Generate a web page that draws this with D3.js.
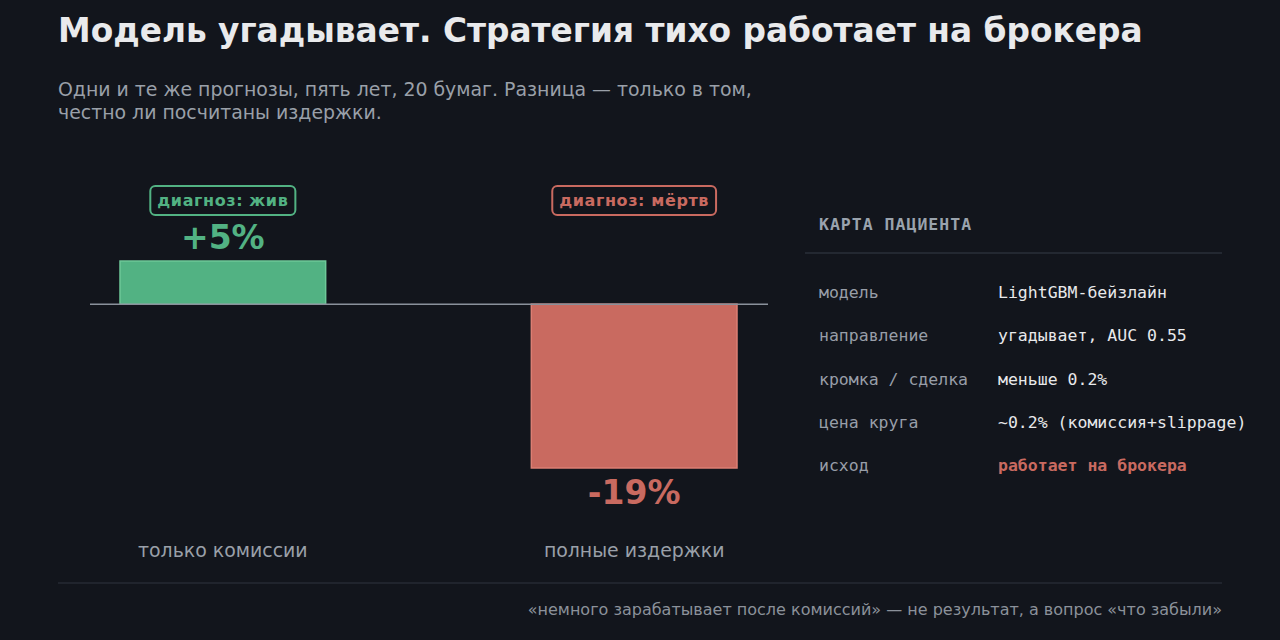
<!DOCTYPE html>
<html>
<head>
<meta charset="utf-8">
<script src="https://cdn.jsdelivr.net/npm/d3@7"></script>
<style>
  html, body { margin: 0; padding: 0; background: #12151c; }
  svg { display: block; }
</style>
</head>
<body>
<div id="vis"></div>
<script>
// data
var categories = ['только комиссии', 'полные издержки'];
var values = [5, -19];
var valueLabels = ['+5%', '-19%'];
var badges = ['диагноз: жив', 'диагноз: мёртв'];

var cardKeys = ['модель', 'направление', 'кромка / сделка', 'цена круга', 'исход'];
var cardValues = ['LightGBM-бейзлайн', 'угадывает, AUC 0.55', 'меньше 0.2%', '~0.2% (комиссия+slippage)', 'работает на брокера'];

var width = 1280;
var height = 640;

var green = '#52b283', greenStroke = '#6dc898';
var red = '#c96a60', redStroke = '#dc7f73';
var sans = 'DejaVu Sans, sans-serif';
var mono = 'DejaVu Sans Mono, monospace';

var svg = d3.select('#vis').append('svg')
  .attr('width', width)
  .attr('height', height);

svg.append('rect')
  .attr('width', width).attr('height', height)
  .attr('fill', '#12151c');

// title
svg.append('text')
  .attr('x', 58).attr('y', 42)
  .attr('font-family', sans).attr('font-weight', 'bold')
  .attr('font-size', 32.8).attr('fill', '#e9eaec')
  .text('Модель угадывает. Стратегия тихо работает на брокера');

var sub = svg.append('text')
  .attr('font-family', sans).attr('font-size', 18.9)
  .attr('fill', '#9aa0a9');
sub.append('tspan').attr('x', 58).attr('y', 96)
  .text('Одни и те же прогнозы, пять лет, 20 бумаг. Разница — только в том,');
sub.append('tspan').attr('x', 58).attr('y', 119)
  .text('честно ли посчитаны издержки.');

// scales
var x = d3.scaleBand()
  .domain(categories)
  .range([120, 737])
  .paddingInner(0.5)
  .paddingOuter(0);

var y = d3.scaleLinear()
  .domain([-19, 5])
  .range([468, 261]);

var g = svg.append('g');

g.selectAll('.bar')
  .data(values)
  .enter().append('rect')
  .attr('class', 'bar')
  .attr('x', function(d, i) { return x(categories[i]); })
  .attr('width', x.bandwidth())
  .attr('y', function(d) { return y(Math.max(0, d)); })
  .attr('height', function(d) { return Math.abs(y(d) - y(0)); })
  .attr('fill', function(d) { return d >= 0 ? green : red; })
  .attr('stroke', function(d) { return d >= 0 ? greenStroke : redStroke; })
  .attr('stroke-width', 1.5);

// zero line
g.append('line')
  .attr('x1', 90).attr('x2', 768)
  .attr('y1', y(0)).attr('y2', y(0))
  .attr('stroke', '#8a919b').attr('stroke-width', 1.5);

// value labels
g.selectAll('.val')
  .data(values)
  .enter().append('text')
  .attr('class', 'val')
  .attr('x', function(d, i) { return x(categories[i]) + x.bandwidth() / 2; })
  .attr('y', function(d) { return d >= 0 ? y(d) - 12 : y(d) + 36; })
  .attr('text-anchor', 'middle')
  .attr('font-family', sans).attr('font-weight', 'bold').attr('font-size', 33)
  .attr('fill', function(d) { return d >= 0 ? green : red; })
  .text(function(d, i) { return valueLabels[i]; });

// badges
var badge = g.selectAll('.badge')
  .data(values)
  .enter().append('g')
  .attr('class', 'badge')
  .attr('transform', function(d, i) {
    return 'translate(' + (x(categories[i]) + x.bandwidth() / 2) + ',200)';
  });

badge.append('text')
  .attr('text-anchor', 'middle')
  .attr('y', 6)
  .attr('font-family', sans).attr('font-weight', 'bold').attr('font-size', 16)
  .attr('letter-spacing', 0.6)
  .attr('fill', function(d) { return d >= 0 ? green : red; })
  .text(function(d, i) { return badges[i]; });

badge.each(function() {
  var t = d3.select(this).select('text').node().getBBox();
  d3.select(this).insert('rect', 'text')
    .attr('x', t.x - 7).attr('y', -14)
    .attr('width', t.width + 14).attr('height', 29)
    .attr('rx', 5)
    .attr('fill', '#12151c')
    .attr('stroke', function(d) { return d >= 0 ? green : red; })
    .attr('stroke-width', 2);
});

// category labels
g.selectAll('.cat')
  .data(categories)
  .enter().append('text')
  .attr('class', 'cat')
  .attr('x', function(d) { return x(d) + x.bandwidth() / 2; })
  .attr('y', 557)
  .attr('text-anchor', 'middle')
  .attr('font-family', sans).attr('font-size', 18.9)
  .attr('fill', '#9aa0a9')
  .text(function(d) { return d; });

// patient card
var card = svg.append('g');
card.append('text')
  .attr('x', 819).attr('y', 230)
  .attr('font-family', mono).attr('font-weight', 'bold').attr('font-size', 16.5)
  .attr('letter-spacing', 1)
  .attr('fill', '#9aa3ad')
  .text('КАРТА ПАЦИЕНТА');

card.append('line')
  .attr('x1', 805).attr('x2', 1222)
  .attr('y1', 253).attr('y2', 253)
  .attr('stroke', '#2a2f39').attr('stroke-width', 1.5);

var rowY = d3.scalePoint()
  .domain(d3.range(cardKeys.length))
  .range([298, 471]);

card.selectAll('.key')
  .data(cardKeys)
  .enter().append('text')
  .attr('x', 819)
  .attr('y', function(d, i) { return rowY(i); })
  .attr('font-family', mono).attr('font-size', 16.5)
  .attr('fill', '#989ea8')
  .text(function(d) { return d; });

card.selectAll('.cval')
  .data(cardValues)
  .enter().append('text')
  .attr('x', 998)
  .attr('y', function(d, i) { return rowY(i); })
  .attr('font-family', mono).attr('font-size', 16.5)
  .attr('font-weight', function(d, i) { return i === cardValues.length - 1 ? 'bold' : 'normal'; })
  .attr('fill', function(d, i) { return i === cardValues.length - 1 ? red : '#e8e9eb'; })
  .text(function(d) { return d; });

// footer
svg.append('line')
  .attr('x1', 58).attr('x2', 1222)
  .attr('y1', 583).attr('y2', 583)
  .attr('stroke', '#262a33').attr('stroke-width', 1.5);

svg.append('text')
  .attr('x', 1222).attr('y', 615)
  .attr('text-anchor', 'end')
  .attr('font-family', sans).attr('font-size', 16)
  .attr('fill', '#8b919a')
  .text('«немного зарабатывает после комиссий» — не результат, а вопрос «что забыли»');
</script>
</body>
</html>
